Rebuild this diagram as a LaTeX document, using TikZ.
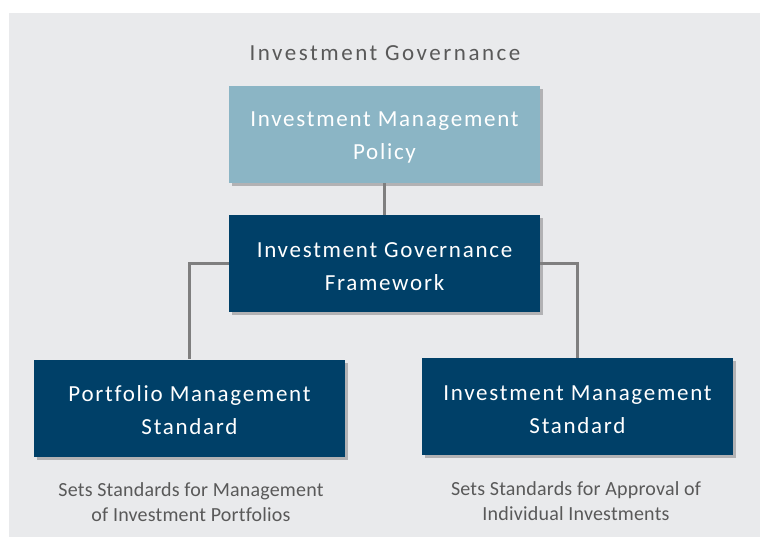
\documentclass[tikz,border=0pt]{standalone}
\usepackage{fontspec}
\setmainfont{Carlito}[Ligatures={NoCommon}]
\usetikzlibrary{shadows}
\definecolor{bgc}{HTML}{E9EAEC}
\definecolor{lightbox}{HTML}{8BB5C5}
\definecolor{darkbox}{HTML}{004068}
\definecolor{linec}{HTML}{7F7F7F}
\definecolor{txtgray}{HTML}{595959}
\newcommand{\boxstrut}{\rule{0pt}{20.8pt}}
\begin{document}
\begin{tikzpicture}[x=1pt,y=-1pt,
  boxbase/.style={rectangle, minimum width=311pt, minimum height=97pt, inner sep=0pt,
    align=center, text=white, font=\fontsize{23}{33}\selectfont\addfontfeatures{LetterSpace=7.5},
    drop shadow={shadow xshift=3pt, shadow yshift=-3pt, opacity=0.35, fill=black!70}},
  lightnode/.style={boxbase, fill=lightbox},
  darknode/.style={boxbase, fill=darkbox},
  conn/.style={draw=linec, line width=3pt},
  caption/.style={align=center, text=txtgray, font=\fontsize{20}{25}\selectfont\addfontfeatures{LetterSpace=1}},
  titlenode/.style={text=txtgray, font=\fontsize{23}{30}\selectfont\addfontfeatures{LetterSpace=11}}]
\useasboundingbox (0,0) rectangle (760,538);
\fill[bgc] (9,13) rectangle (760,537);
\node[titlenode] (title) at (385,53) {Investment Governance};
\node[lightnode] (policy) at (384.5,134.5) {\boxstrut Investment Management\\Policy};
\node[darknode] (fw) at (384.5,263.5) {\boxstrut Investment Governance\\Framework};
\node[darknode] (left) at (189.5,408) {\boxstrut Portfolio Management\\Standard};
\node[darknode] (right) at (577.5,406.5) {\boxstrut Investment Management\\Standard};
\draw[conn] (policy.south) -- (fw.north);
\draw[conn] (fw.west) -| (left.north);
\draw[conn] (fw.east) -| (right.north);
\node[caption] (capl) at (191,502) {Sets Standards for Management\\of Investment Portfolios};
\node[caption] (capr) at (576,501) {Sets Standards for Approval of\\Individual Investments};
\end{tikzpicture}
\end{document}
